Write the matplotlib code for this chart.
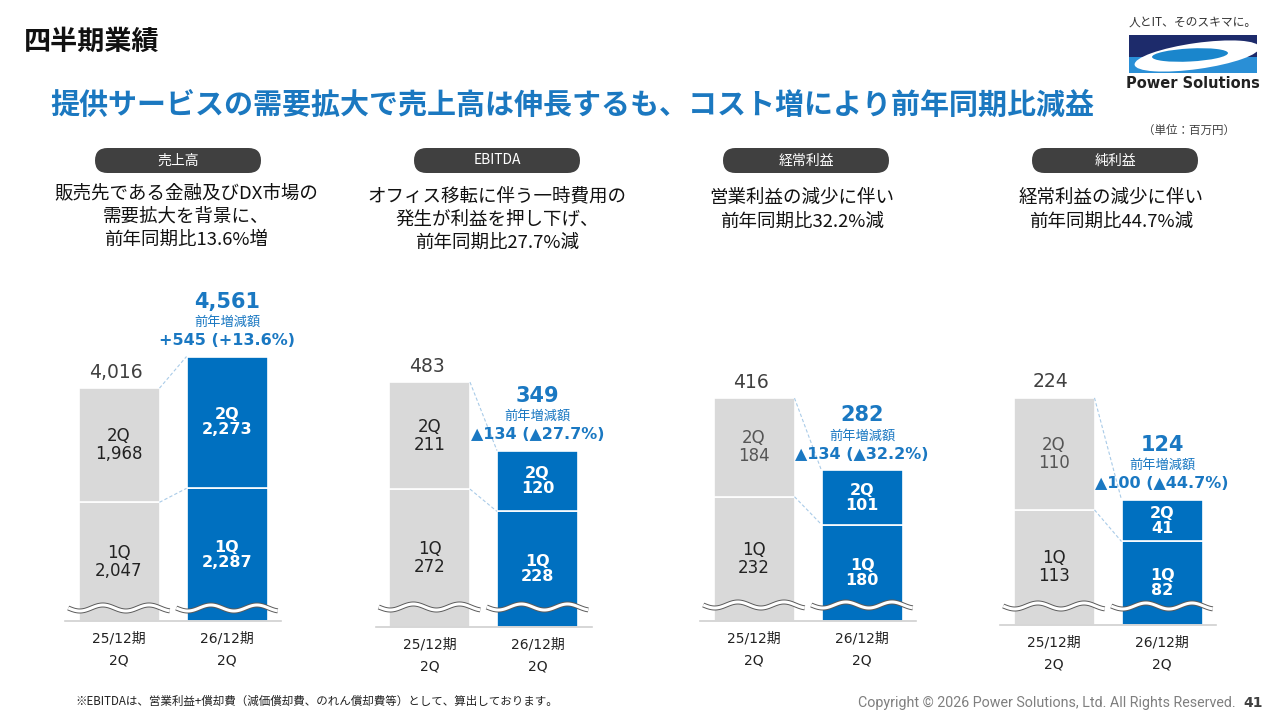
import numpy as np
import matplotlib.pyplot as plt
import matplotlib.patheffects as pe
from matplotlib.patches import FancyBboxPatch, Rectangle, Ellipse

plt.rcParams['font.family'] = ['Noto Sans CJK JP', 'DejaVu Sans']

# ---- data ----
metrics = ['売上高', 'EBITDA', '経常利益', '純利益']
periods = ['25/12期', '26/12期']
quarter = '2Q'
prev_q1 = [2047, 272, 232, 113]
prev_q2 = [1968, 211, 184, 110]
curr_q1 = [2287, 228, 180, 82]
curr_q2 = [2273, 120, 101, 41]
prev_total = [4016, 483, 416, 224]
curr_total = [4561, 349, 282, 124]
changes = ['+545 (+13.6%)', '▲134 (▲27.7%)', '▲134 (▲32.2%)', '▲100 (▲44.7%)']
comments = [
    ['販売先である金融及びDX市場の', '需要拡大を背景に、', '前年同期比13.6%増'],
    ['オフィス移転に伴う一時費用の', '発生が利益を押し下げ、', '前年同期比27.7%減'],
    ['営業利益の減少に伴い', '前年同期比32.2%減'],
    ['経常利益の減少に伴い', '前年同期比44.7%減'],
]

# ---- layout (pixels) ----
W, H = 1280, 720
GRAY = '#d9d9d9'
BLUE = '#0070c0'
BLUE_TXT = '#1a78c2'
NUM_FONT = ['DejaVu Sans', 'Noto Sans CJK JP']
bar_px = [119, 429.5, 754, 1054]
base_px = [621, 627, 621, 625]
ytop = [5690, 651, 616, 324]
wave_px = [13, 20, 16, 19]
pill_x = [178, 497, 806, 1115]
text_x = [186, 497, 802, 1111]
text_y0 = [193, 196, 198, 198]
q2_prev_col = ['#222222', '#222222', '#555555', '#555555']
AX_H = 330

fig = plt.figure(figsize=(12.8, 7.2), dpi=100)
bg = fig.add_axes([0, 0, 1, 1])
bg.set_xlim(0, W)
bg.set_ylim(H, 0)
bg.axis('off')

# header
bg.text(24, 42, '四半期業績', fontsize=19.5, fontweight='bold', color='#111111', va='center')
bg.text(50, 105, '提供サービスの需要拡大で売上高は伸長するも、コスト増により前年同期比減益',
        fontsize=20.9, fontweight='bold', color='#1b78c0', va='center')
bg.text(1193, 22, '人とIT、そのスキマに。', fontsize=8.5, color='#333333', ha='center', va='center')
bg.text(1235, 130, '（単位：百万円）', fontsize=8.3, color='#404040', ha='right', va='center')

# logo
frame = Rectangle((1129, 35), 128, 38, fc='#2a8fd6', ec='none')
bg.add_patch(frame)
for p in [Rectangle((1129, 35), 128, 22, fc='#1d2b6b', ec='none'),
          Ellipse((1197, 56), 126, 26, angle=-8, fc='white', ec='none'),
          Ellipse((1190, 55), 76, 13, angle=-3, fc='#1a86cc', ec='none')]:
    bg.add_patch(p)
    p.set_clip_path(frame)
bg.text(1193, 83, 'Power Solutions', fontsize=10.5, fontweight='bold', color='#222222',
        ha='center', va='center', family='DejaVu Sans')

# footer
bg.text(75, 701, '※EBITDAは、営業利益+償却費（減価償却費、のれん償却費等）として、算出しております。',
        fontsize=8.3, color='#222222', va='center')
bg.text(1236, 703, 'Copyright © 2026 Power Solutions, Ltd. All Rights Reserved.',
        fontsize=10.3, color='#7f7f7f', ha='right', va='center', family='Roboto')
bg.text(1243, 703, '41', fontsize=10, fontweight='bold', color='#404040', va='center',
        family='DejaVu Sans')

for i in range(4):
    # pill + comment
    bg.add_patch(FancyBboxPatch((pill_x[i] - 83, 148), 166, 25,
                                boxstyle='round,pad=0,rounding_size=12.5',
                                fc='#404040', ec='none'))
    bg.text(pill_x[i], 160.5, metrics[i], fontsize=10, color='white', ha='center', va='center')
    for k, line in enumerate(comments[i]):
        bg.text(text_x[i], text_y0[i] + 23.5 * k, line, fontsize=13.3, color='#111111',
                ha='center', va='center')

    # bars
    gx = bar_px[i]
    ax = fig.add_axes([(gx - 54) / W, 1 - base_px[i] / H, 216 / W, AX_H / H])
    ax.set_xlim(-0.5, 1.5)
    ax.set_ylim(0, ytop[i])
    ax.axis('off')
    ppu = AX_H / ytop[i]

    q1 = [prev_q1[i], curr_q1[i]]
    q2 = [prev_q2[i], curr_q2[i]]
    tops = [q1[0] + q2[0], q1[1] + q2[1]]
    ax.bar([0, 1], q1, width=0.75, color=[GRAY, BLUE], edgecolor='white', linewidth=1.2)
    ax.bar([0, 1], q2, bottom=q1, width=0.75, color=[GRAY, BLUE], edgecolor='white', linewidth=1.2)
    ax.axhline(0, color='#d0d0d0', lw=1.2, clip_on=False)

    # dashed connectors
    ax.plot([0.375, 0.625], [tops[0], tops[1]], ls=(0, (3, 2)), lw=0.8, color='#a9cbe8')
    ax.plot([0.375, 0.625], [q1[0], q1[1]], ls=(0, (3, 2)), lw=0.8, color='#a9cbe8')

    # segment labels
    ax.text(0, q1[0] / 2, f'1Q\n{q1[0]:,}', ha='center', va='center', fontsize=12,
            color='#222222', linespacing=1.0, family=NUM_FONT)
    ax.text(0, q1[0] + q2[0] / 2, f'2Q\n{q2[0]:,}', ha='center', va='center', fontsize=12,
            color=q2_prev_col[i], linespacing=1.0, family=NUM_FONT)
    ax.text(1, q1[1] / 2, f'1Q\n{q1[1]:,}', ha='center', va='center', fontsize=11.5,
            color='white', fontweight='bold', linespacing=1.0, family=NUM_FONT)
    ax.text(1, q1[1] + q2[1] / 2, f'2Q\n{q2[1]:,}', ha='center', va='center', fontsize=11.5,
            color='white', fontweight='bold', linespacing=1.0, family=NUM_FONT)

    # totals
    ax.annotate(f'{prev_total[i]:,}', (0, tops[0]), xytext=(-3, 16), textcoords='offset pixels',
                ha='center', va='center', fontsize=13.5, color='#404040', family=NUM_FONT)
    ax.annotate(f'{curr_total[i]:,}', (1, tops[1]), xytext=(0, 55), textcoords='offset pixels',
                ha='center', va='center', fontsize=15, fontweight='bold', color=BLUE_TXT,
                family=NUM_FONT)
    ax.annotate('前年増減額', (1, tops[1]), xytext=(0, 34), textcoords='offset pixels',
                ha='center', va='center', fontsize=9.5, color=BLUE_TXT)
    ax.annotate(changes[i], (1, tops[1]), xytext=(0, 16), textcoords='offset pixels',
                ha='center', va='center', fontsize=11.5, fontweight='bold', color=BLUE_TXT,
                family=NUM_FONT)

    # category labels
    for j in range(2):
        ax.annotate(periods[j], (j, 0), xytext=(0, -17), textcoords='offset pixels',
                    ha='center', va='center', fontsize=10, color='#222222', family=NUM_FONT)
        ax.annotate(quarter, (j, 0), xytext=(0, -40), textcoords='offset pixels',
                    ha='center', va='center', fontsize=10, color='#222222', family=NUM_FONT)

        # wave break mark
        xs = np.linspace(j - 0.47, j + 0.47, 120)
        ys = wave_px[i] / ppu + 3 / ppu * np.sin(2 * np.pi * 2.2 * (xs - j + 0.47) / 0.94 + np.pi)
        ax.plot(xs, ys, color='white', lw=2.2, solid_capstyle='butt', clip_on=False,
                path_effects=[pe.Stroke(linewidth=3.6, foreground='#5a5a5a'), pe.Normal()])

fig.savefig('out.png', dpi=100)
